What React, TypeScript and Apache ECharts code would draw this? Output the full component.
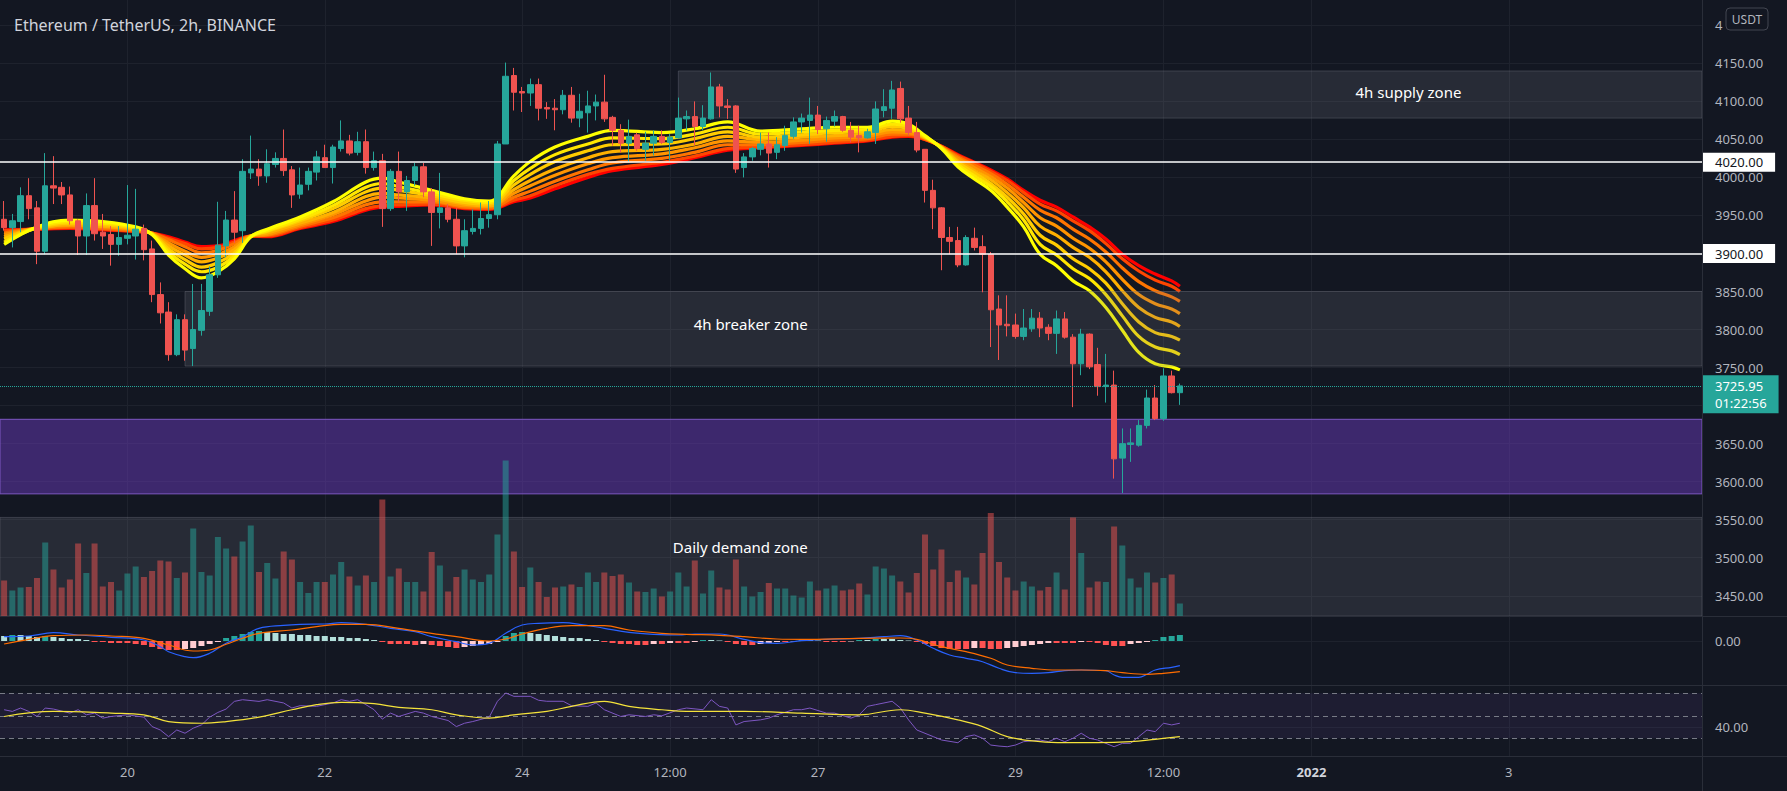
import React, { useEffect, useRef } from 'react';
import * as echarts from 'echarts';

// ---------- DATA ----------
const SLOT_COUNT = 207; // candle slots across the plot (last 63 are empty future slots)
const tickIdx = [15, 39, 63, 81, 99, 123, 141, 159, 183];
const tickText = ['20', '22', '24', '12:00', '27', '29', '12:00', '2022', '3'];

const opens = [3945,3934,3942,3976,3960,3903,3989,3987,3977,3943,
3923,3963,3928,3925,3912,3920,3923,3933,3906,3846,
3823,3767,3813,3775,3799,3824,3872,3910,3944,3930,
4006,4011,4002,4017,4025,4010,3978,3991,4007,4026,
4013,4038,4048,4033,4047,4013,4022,3959,4008,3981,
3996,4014,3981,3954,3960,3945,3910,3929,3933,3946,
3951,4044,4134,4113,4111,4122,4092,4091,4089,4108,
4078,4085,4094,4099,4079,4062,4045,4056,4037,4045,
4054,4046,4052,4077,4080,4067,4077,4119,4094,4094,
4013,4027,4037,4044,4033,4042,4054,4073,4075,4082,
4064,4074,4080,4062,4055,4052,4059,4088,4091,4117,
4078,4059,4037,3983,3960,3921,3917,3885,3920,3909,
3899,3827,3807,3806,3791,3801,3815,3803,3795,3814,
3790,3755,3794,3754,3725,3727,3631,3649,3648,3674,
3710,3683,3739,3717];
const highs = [3969,3952,3987,3999,3969,4032,4028,3994,3988,3945,
3979,3999,3952,3936,3936,3990,3985,3938,3917,3862,
3836,3820,3820,3860,3860,3883,3968,3956,3982,4024,
4055,4024,4037,4033,4063,4015,4013,4013,4035,4043,
4043,4075,4056,4060,4063,4034,4031,4011,4034,4002,
4019,4019,3986,4006,3965,3960,3945,3958,3967,3969,
4048,4151,4144,4119,4130,4130,4099,4103,4115,4119,
4110,4114,4109,4135,4081,4070,4076,4059,4060,4062,
4062,4057,4105,4088,4100,4095,4138,4123,4103,4095,
4032,4040,4059,4059,4053,4068,4079,4084,4105,4094,
4080,4088,4081,4073,4068,4064,4100,4116,4127,4126,
4094,4073,4037,3997,3961,3935,3935,3924,3934,3924,
3902,3845,3845,3821,3827,3827,3823,3807,3825,3823,
3794,3801,3795,3776,3768,3746,3670,3670,3681,3721,
3727,3749,3746,3729];
const lows = [3930,3908,3928,3945,3886,3899,3965,3965,3938,3898,
3898,3917,3906,3884,3897,3912,3892,3891,3836,3808,
3759,3765,3759,3752,3792,3818,3868,3895,3914,3914,
3998,3989,3993,4013,4002,3960,3972,3983,3996,4013,
3992,4034,4029,4029,4005,4009,3935,3956,3967,3956,
3989,3974,3910,3933,3941,3899,3895,3925,3925,3934,
3945,4044,4088,4086,4094,4075,4077,4062,4083,4072,
4066,4059,4075,4073,4042,4033,4020,4035,4022,4029,
4044,4022,4051,4062,4042,4062,4076,4079,4077,4006,
4000,4022,4029,4013,4024,4035,4051,4059,4044,4057,
4047,4067,4060,4046,4033,4051,4044,4079,4077,4072,
4055,4033,3967,3932,3878,3899,3882,3884,3904,3849,
3777,3760,3791,3788,3786,3797,3790,3786,3768,3788,
3698,3740,3748,3713,3704,3604,3585,3626,3646,3670,
3681,3680,3716,3701];
const closes = [3934,3943,3976,3959,3903,3989,3986,3977,3943,3923,
3963,3926,3923,3912,3921,3924,3932,3905,3846,3822,
3767,3813,3773,3800,3825,3872,3911,3944,3928,4008,
4011,4002,4018,4025,4009,3977,3990,4008,4027,4013,
4040,4048,4032,4047,4013,4022,3959,4008,3981,3996,
4014,3981,3954,3960,3945,3910,3930,3933,3946,3951,
4044,4133,4112,4111,4122,4091,4090,4089,4108,4078,
4087,4094,4099,4077,4062,4045,4054,4038,4045,4054,
4046,4053,4078,4080,4067,4078,4119,4094,4092,4011,
4027,4038,4044,4032,4043,4055,4073,4078,4082,4063,
4075,4080,4062,4053,4052,4060,4090,4093,4115,4077,
4059,4036,3983,3960,3921,3916,3885,3921,3908,3899,
3826,3806,3805,3791,3802,3815,3802,3795,3814,3790,
3755,3794,3751,3725,3727,3630,3650,3651,3674,3710,
3683,3739,3717,3725.95];

// volume, thousand ETH
const volumes = [7.1,5.1,5.7,5.8,7.6,14.7,9.3,5.7,7.3,14.5,
8.6,14.5,5.9,6.8,5.1,8.5,9.9,7.8,9.0,11.1,
10.9,7.6,8.7,17.5,8.8,8.1,15.8,13.5,11.9,14.9,
18.1,8.8,10.6,7.5,12.9,11.3,6.8,4.6,6.8,6.8,
8.3,10.8,7.9,6.1,8.1,6.8,23.3,7.9,9.5,6.8,
6.8,4.9,12.8,10.1,4.9,7.8,9.3,7.3,6.8,8.3,
16.3,31.1,12.9,5.8,9.7,6.8,3.8,5.7,5.9,6.3,
5.8,8.7,6.8,8.7,8.0,8.3,6.7,4.9,4.8,5.5,
3.9,4.9,8.7,5.9,11.1,4.5,9.1,5.7,5.3,11.3,
5.9,3.9,4.8,6.6,5.5,5.5,4.1,3.7,6.9,5.1,
5.5,6.1,5.1,5.3,6.5,4.3,9.9,9.5,8.1,6.9,
4.7,8.6,16.3,9.3,13.3,6.8,9.1,7.7,6.3,12.6,
20.6,10.8,7.7,5.1,6.9,5.9,5.1,5.8,8.7,5.3,
19.7,12.6,5.7,6.9,6.8,17.9,14.1,7.5,5.7,8.7,
6.7,7.6,8.3,2.5];

// EMA ribbon, read at sample candles (fast 20 -> slow 55)
const ribbonIdx = [0,4,8,12,16,18,20,22,24,26,28,30,32,36,40,44,46,48,52,56,59,62,64,67,71,74,80,84,88,92,97,101,105,108,110,112,114,116,118,120,122,124,126,128,130,132,134,136,138,140,142,143];
const ema20 = [3912,3935,3944,3942,3935,3925,3898,3880,3868,3876,3893,3922,3932,3948,3968,3994,3999,3994,3983,3972,3969,4002,4021,4040,4054,4062,4059,4064,4073,4061,4064,4066,4066,4074,4070,4055,4038,4014,3998,3983,3961,3935,3899,3884,3864,3851,3829,3799,3770,3755,3751,3747];
const ema25 = [3915,3934,3942,3940,3934,3925,3902,3886,3876,3882,3897,3922,3930,3945,3963,3987,3992,3988,3979,3970,3967,3996,4012,4030,4044,4052,4051,4057,4066,4057,4060,4062,4063,4070,4067,4054,4039,4017,4002,3988,3968,3944,3912,3898,3880,3867,3846,3818,3791,3777,3772,3767];
const ema30 = [3919,3934,3940,3938,3933,3926,3906,3892,3882,3888,3901,3922,3929,3943,3959,3981,3986,3983,3976,3967,3965,3990,4004,4021,4035,4043,4044,4051,4060,4053,4056,4059,4060,4067,4064,4053,4039,4020,4006,3992,3974,3952,3924,3911,3893,3880,3861,3834,3810,3796,3791,3786];
const ema35 = [3922,3933,3938,3936,3932,3926,3910,3898,3889,3894,3905,3923,3927,3940,3954,3975,3979,3977,3973,3965,3963,3984,3996,4011,4026,4034,4037,4044,4054,4050,4053,4055,4057,4063,4062,4052,4040,4022,4009,3997,3980,3960,3936,3924,3908,3895,3876,3851,3829,3816,3810,3804];
const ema40 = [3925,3933,3937,3935,3931,3926,3914,3903,3895,3899,3909,3923,3925,3938,3951,3969,3974,3973,3970,3963,3962,3979,3989,4003,4018,4026,4031,4039,4048,4046,4049,4052,4054,4060,4059,4052,4040,4025,4013,4001,3986,3967,3947,3936,3920,3907,3889,3866,3846,3834,3827,3821];
const ema45 = [3927,3933,3935,3933,3930,3927,3918,3909,3901,3904,3913,3923,3924,3936,3947,3964,3968,3968,3968,3961,3960,3974,3982,3995,4010,4019,4025,4033,4043,4043,4046,4049,4051,4057,4057,4051,4040,4027,4016,4005,3991,3974,3957,3947,3932,3919,3902,3881,3863,3851,3843,3837];
const ema50 = [3930,3932,3934,3932,3929,3927,3920,3913,3906,3908,3915,3923,3923,3934,3944,3959,3963,3964,3965,3960,3959,3970,3976,3989,4004,4012,4020,4028,4038,4040,4043,4046,4049,4054,4055,4050,4041,4029,4019,4008,3996,3980,3965,3956,3943,3930,3913,3893,3877,3865,3857,3850];
const ema55 = [3931,3932,3933,3931,3929,3927,3922,3915,3909,3910,3917,3923,3922,3933,3942,3957,3961,3962,3964,3959,3958,3968,3973,3985,4000,4009,4017,4026,4036,4039,4042,4045,4048,4053,4054,4050,4041,4030,4020,4010,3998,3983,3970,3961,3948,3935,3919,3899,3884,3873,3864,3857];

// MACD (USDT)
const macdHist = [5,6,6,5,4,5,4,3,2,2,
1,-1,-1,-2,-2,-2,-3,-4,-6,-8,
-9,-9,-8,-7,-5,-3,-1,3,5,7,
9,10,9,8,7,7,6,6,5,5,
4,4,3,3,2,1,-1,-3,-3,-3,
-4,-3,-4,-5,-6,-7,-6,-5,-4,-3,
-1,5,8,9,8,7,6,5,4,3,
3,2,1,-1,-2,-3,-3,-4,-4,-3,
-3,-2,-2,-2,-1,1,1,0.5,-1,-3,
-4,-4,-3,-2,-1,-1,-0.5,1,1,0.5,
-1,-1,-1,-0.5,1,1,2,2,2,1,
0.5,-1,-3,-5,-7,-8,-8,-8,-7,-7,
-8,-8,-7,-6,-5,-4,-3,-2,-2,-2,
-2,-1,-1,-2,-4,-5,-5,-3,-2,-1,
1,4,5,6];
const macdPts = [[0,4.3],[3,5],[6,8.3],[9,6],[13,3.7],[17,1],[19,-5.7],[20,-10.7],[22,-15.7],[23,-16.7],[25,-12.3],[27,-2.3],[29,4.3],[31,12.7],[34,15.7],[36,16.7],[39,17],[41,18.3],[44,16.7],[47,12.7],[50,9.3],[52,4.3],[55,-0.7],[57,-4],[59,-2.3],[61,7.7],[63,16],[65,17.7],[68,18.3],[70,16.7],[73,12.7],[76,8.7],[79,6.7],[82,6],[84,7],[87,7],[90,1.7],[92,-1.7],[94,-2.3],[97,0.3],[100,1.7],[104,2.7],[107,4.3],[109,5.3],[111,1],[113,-7.3],[115,-14],[117,-17.3],[119,-20.7],[121,-27.3],[123,-31.7],[125,-32.3],[127,-31.7],[129,-29.7],[131,-29],[134,-29.7],[135,-34],[136,-36.3],[138,-36.3],[139,-33.3],[140,-29],[142,-26.3],[143,-24.7]];
const signalPts = [[0,-3],[3,1.7],[6,5.3],[10,6],[13,5],[17,2.7],[20,-4],[23,-10],[25,-9],[27,-3.3],[29,2.7],[31,7.7],[35,11],[38,14.3],[41,16.7],[44,16.7],[48,12.7],[52,7.7],[55,4.3],[59,0],[61,2],[63,7],[66,12.7],[69,15.3],[73,15.3],[76,11],[80,7.7],[83,6.7],[87,5.7],[90,4.3],[94,2],[97,1.7],[104,2.7],[109,3],[111,1.7],[114,-5.7],[117,-10.7],[120,-17.3],[122,-24],[125,-27.3],[128,-29],[131,-29],[134,-29.7],[136,-31.7],[139,-33.3],[141,-32.3],[143,-30.7]];

// RSI
const rsiPts = [[0,55.4],[1,53.9],[2,56.9],[3,53.9],[4,49.4],[5,56.9],[6,56],[8,52.4],[9,55.4],[10,50.9],[11,52.4],[12,47.9],[13,49.4],[15,50.9],[17,48.8],[18,40.4],[19,37.4],[20,31.5],[21,37.4],[22,34.5],[23,39],[24,41.9],[25,48.8],[26,53],[27,56],[28,62.8],[29,64.3],[31,62.8],[32,64.3],[34,61.4],[35,56.9],[36,59],[38,58.4],[40,61.4],[41,64.3],[42,62.9],[43,64.3],[44,59.9],[45,55.4],[46,47],[47,52.4],[48,49.4],[50,53.9],[51,52.4],[52,49.4],[54,45.8],[55,40.4],[56,43.4],[57,44.9],[59,48.8],[60,62.9],[61,70.3],[62,67.3],[64,67.3],[65,63.8],[66,62.9],[68,62.9],[69,59],[71,58.4],[72,61.4],[73,55.4],[75,49.4],[76,50.9],[78,49.4],[79,50.9],[80,50],[82,55.4],[83,56.9],[85,55.4],[86,64.3],[87,58.4],[88,56.9],[89,41.9],[90,44.9],[92,46.4],[93,47.9],[94,50.9],[96,55.4],[97,55.4],[98,56.9],[100,52.4],[101,52.4],[103,47.9],[104,50.9],[105,58.4],[106,59.9],[108,62.9],[109,57],[110,46.4],[111,37.4],[113,31.5],[114,28.5],[116,26.1],[117,31.5],[118,33],[119,30],[120,24],[121,23.1],[122,22.5],[123,24],[124,27],[126,28.5],[127,27],[128,30],[129,27],[130,30],[131,34.5],[132,30],[133,28.5],[135,22.5],[136,25.5],[137,25.5],[138,31.5],[139,37.4],[140,35.9],[141,43.4],[142,41.9],[143,43.4]];
const rsiMaPts = [[0,49.4],[6,53.9],[13,52.4],[17,50.9],[20,44.9],[24,43.4],[27,44.9],[31,48.8],[35,55.4],[38,59.9],[41,62],[45,60.8],[48,57.5],[52,55.4],[55,50.9],[59,47.9],[62,50.9],[66,53.9],[69,58.4],[73,62.9],[76,58.4],[80,55.4],[83,53.9],[90,53.9],[97,52.4],[104,50.9],[109,55.4],[112,52.4],[116,46.4],[119,40.4],[122,31.5],[126,27],[129,26.1],[133,26.1],[137,27],[140,29.1],[143,31.5]];

// zones and levels
const supplyZone = [4078, 4140];
const supplyStart = 82;
const breakerZone = [3752, 3850];
const breakerStart = 22;
const purpleZone = [3584, 3682];
const demandZone = [3423.3, 3553];
const levels = [4020, 3900];
const lastPrice = 3725.95;
const countdown = '01:22:56';

// ---------- STYLE ----------
const BG = '#131722';
const FONT = '"Noto Sans", "DejaVu Sans", sans-serif';
const GRIDC = '#1e222d';
const UP = '#26a69a';
const DOWN = '#ef5350';
const ribbonColors = ['#ffff00', '#ffe600', '#ffcc00', '#ffb000', '#ff9400', '#ff7400', '#ff4600', '#ff0000'];

export default function App() {
  const ref = useRef<HTMLDivElement>(null);

  useEffect(() => {
    if (!ref.current) return;
    const chart = echarts.init(ref.current, undefined, { renderer: 'svg' });
    const slots = Array.from({ length: SLOT_COUNT }, (_, i) => String(i));
    const candleData = opens.map((o, i) => [o, closes[i], lows[i], highs[i]]);
    const volData = volumes.map((v, i) => ({
      value: v,
      itemStyle: { color: closes[i] >= opens[i] ? 'rgba(38,166,154,0.5)' : 'rgba(239,83,80,0.5)' },
    }));
    const histData = macdHist.map((h, i) => {
      const prev = i > 0 ? macdHist[i - 1] : h;
      let c;
      if (h >= 0) c = h > prev ? '#26a69a' : '#b2dfdb';
      else c = h > prev ? '#ffcdd2' : '#ff5252';
      return { value: h, itemStyle: { color: c } };
    });
    const emas = [ema55, ema50, ema45, ema40, ema35, ema30, ema25, ema20];
    const emaCols = [...ribbonColors].reverse();
    const ribbonSeries = emas.map((arr, k) => ({
      type: 'line',
      xAxisIndex: 0,
      yAxisIndex: 0,
      data: arr.map((v, j) => [ribbonIdx[j], v]),
      smooth: 0.4,
      showSymbol: false,
      symbol: 'none',
      lineStyle: { color: emaCols[k], width: 3.2 },
      z: 2,
      silent: true,
    }));
    const isTick = (i: number) => tickIdx.includes(i);
    const priceSplit = ['transparent', ...Array(20).fill(GRIDC)];
    const zoneGray = { color: 'rgba(120,123,134,0.2)', borderColor: 'rgba(120,123,134,0.35)', borderWidth: 1 };
    const zoneLabel = (pos: string[]) => ({
      show: true, position: pos, align: 'center', verticalAlign: 'middle',
      color: '#ffffff', fontSize: 15, fontFamily: FONT,
    });
    // the axis label hidden behind the live price tag, and the one cut by the USDT badge
    const priceLabel = (v: number) => {
      if (v === 3700) return '';
      if (v === 4200) return '4';
      return v.toFixed(2);
    };

    const option: any = {
      animation: false,
      backgroundColor: BG,
      textStyle: { fontFamily: FONT },
      title: {
        text: 'Ethereum / TetherUS, 2h, BINANCE',
        left: 9, top: 12,
        textStyle: { color: '#d1d4dc', fontSize: 16, fontWeight: 'normal', fontFamily: FONT },
      },
      grid: [
        { left: 0, top: 25.32, width: 1702, height: 608.48 },
        { left: 0, top: 400, width: 1702, height: 216 },
        { left: 0, top: 616, width: 1702, height: 69 },
        { left: 0, top: 659.55, width: 1702, height: 112.5 },
        { left: 1702 / SLOT_COUNT / 2, top: 0, width: (1702 * (SLOT_COUNT - 1)) / SLOT_COUNT, height: 756 },
      ],
      xAxis: [
        { gridIndex: 0, type: 'category', data: slots, boundaryGap: true, show: false },
        { gridIndex: 1, type: 'category', data: slots, boundaryGap: true, show: false },
        { gridIndex: 2, type: 'category', data: slots, boundaryGap: true, show: false },
        { gridIndex: 3, type: 'category', data: slots, boundaryGap: true, show: false },
        {
          gridIndex: 4, type: 'category', data: slots, boundaryGap: false, position: 'bottom',
          axisLine: { show: false }, axisTick: { show: false },
          splitLine: { show: true, interval: (i: number) => isTick(i), lineStyle: { color: GRIDC, width: 1 } },
          axisLabel: {
            show: true, interval: (i: number) => isTick(i), margin: 9,
            color: '#b2b5be', fontSize: 13, fontFamily: FONT,
            formatter: (_v: string, i: number) => {
              const k = tickIdx.indexOf(i);
              if (k < 0) return '';
              return tickText[k] === '2022' ? '{b|2022}' : tickText[k];
            },
            rich: { b: { fontWeight: 'bold', color: '#d1d4dc', fontSize: 13, fontFamily: FONT } },
          },
        },
      ],
      yAxis: [
        {
          gridIndex: 0, type: 'value', position: 'right', min: 3400, max: 4200, interval: 50,
          axisLine: { show: false }, axisTick: { show: false },
          axisLabel: {
            color: '#b2b5be', fontSize: 13, margin: 13, fontFamily: FONT,
            showMinLabel: false, showMaxLabel: true,
            formatter: priceLabel,
          },
          splitLine: { show: true, lineStyle: { color: priceSplit, width: 1 } },
        },
        { gridIndex: 1, type: 'value', min: 0, max: 43.2, show: false },
        {
          gridIndex: 2, type: 'value', position: 'right', min: -44, max: 25, interval: 44,
          axisLine: { show: false }, axisTick: { show: false },
          axisLabel: {
            color: '#b2b5be', fontSize: 13, margin: 13, fontFamily: FONT,
            showMinLabel: false, showMaxLabel: false,
            formatter: (v: number) => (v === 0 ? '0.00' : ''),
          },
          splitLine: { show: true, lineStyle: { color: ['transparent', GRIDC, 'transparent'] } },
        },
        {
          gridIndex: 3, type: 'value', position: 'right', min: 0, max: 100, interval: 40,
          axisLine: { show: false }, axisTick: { show: false },
          axisLabel: {
            color: '#b2b5be', fontSize: 13, margin: 13, fontFamily: FONT,
            showMinLabel: false, showMaxLabel: false,
            formatter: (v: number) => (v === 40 ? '40.00' : ''),
          },
          splitLine: { show: true, lineStyle: { color: ['transparent', GRIDC, 'transparent', 'transparent'] } },
        },
        { gridIndex: 4, type: 'value', min: 0, max: 1, show: false },
      ],
      series: [
        ...ribbonSeries,
        {
          type: 'line', xAxisIndex: 0, yAxisIndex: 0, data: [], clip: false, z: 3, silent: true,
          markArea: {
            silent: true, z: 3,
            data: [
              [{ xAxis: supplyStart, yAxis: supplyZone[1], itemStyle: zoneGray, label: { ...zoneLabel(['71.3%', '44%']), formatter: '4h supply zone' } }, { yAxis: supplyZone[0] }],
              [{ xAxis: breakerStart, yAxis: breakerZone[1], itemStyle: zoneGray, label: { ...zoneLabel(['37.3%', '44%']), formatter: '4h breaker zone' } }, { yAxis: breakerZone[0] }],
              [{ yAxis: purpleZone[1], itemStyle: { color: 'rgba(103,58,183,0.5)', borderColor: '#7e57c2', borderWidth: 1 }, label: { show: false } }, { yAxis: purpleZone[0] }],
              [{ yAxis: demandZone[1], itemStyle: zoneGray, label: { ...zoneLabel(['43.5%', '30%']), formatter: 'Daily demand zone' } }, { yAxis: demandZone[0] }],
            ],
          },
          markLine: {
            silent: true, z: 6, symbol: ['none', 'none'],
            data: [
              ...levels.map((lv) => ({
                yAxis: lv,
                lineStyle: { color: '#ffffff', width: 1.5, type: 'solid' },
                label: {
                  show: true, position: 'end', distance: 0, formatter: lv.toFixed(2),
                  backgroundColor: '#ffffff', color: '#131722', fontSize: 13, lineHeight: 14, fontFamily: FONT,
                  padding: [3, 12, 2, 13],
                },
              })),
              {
                yAxis: lastPrice,
                lineStyle: { color: UP, width: 1, type: 'dotted' },
                label: { show: false },
              },
              {
                // price tag hangs just below the live price line
                yAxis: lastPrice - 11,
                lineStyle: { color: 'rgba(0,0,0,0)', width: 1 },
                label: {
                  show: true, position: 'end', distance: 0,
                  formatter: `{p|${lastPrice.toFixed(2)}}\n{t|${countdown}}`,
                  backgroundColor: UP, padding: [2, 12, 2, 13],
                  rich: {
                    p: { color: '#ffffff', fontSize: 13, lineHeight: 17, fontFamily: FONT },
                    t: { color: '#ffffff', fontSize: 13, lineHeight: 17, fontFamily: FONT },
                  },
                },
              },
            ],
          },
        },
        {
          type: 'bar', xAxisIndex: 1, yAxisIndex: 1, data: volData, barWidth: 6, z: 4, silent: true,
        },
        {
          type: 'candlestick', xAxisIndex: 0, yAxisIndex: 0, data: candleData, barWidth: 6, z: 5, silent: true,
          itemStyle: { color: UP, color0: DOWN, borderColor: UP, borderColor0: DOWN, borderWidth: 1 },
        },
        {
          type: 'bar', xAxisIndex: 2, yAxisIndex: 2, data: histData, barWidth: 6, z: 3, silent: true,
        },
        {
          type: 'line', xAxisIndex: 2, yAxisIndex: 2, data: macdPts, smooth: 0.4, showSymbol: false, symbol: 'none',
          lineStyle: { color: '#2962ff', width: 1.2 }, z: 4, silent: true,
        },
        {
          type: 'line', xAxisIndex: 2, yAxisIndex: 2, data: signalPts, smooth: 0.4, showSymbol: false, symbol: 'none',
          lineStyle: { color: '#ff6d00', width: 1.2 }, z: 4, silent: true,
        },
        {
          type: 'line', xAxisIndex: 3, yAxisIndex: 3, data: rsiPts, showSymbol: false, symbol: 'none',
          lineStyle: { color: '#7e57c2', width: 1 }, z: 4, silent: true,
          markArea: {
            silent: true, z: 1,
            data: [[{ yAxis: 70, itemStyle: { color: 'rgba(126,87,194,0.1)' } }, { yAxis: 30 }]],
          },
          markLine: {
            silent: true, z: 2, symbol: ['none', 'none'], label: { show: false },
            lineStyle: { color: '#787b86', width: 1, type: [5, 4] },
            data: [{ yAxis: 70 }, { yAxis: 50 }, { yAxis: 30 }],
          },
        },
        {
          type: 'line', xAxisIndex: 3, yAxisIndex: 3, data: rsiMaPts, smooth: 0.4, showSymbol: false, symbol: 'none',
          lineStyle: { color: '#f5e33b', width: 1.2 }, z: 4, silent: true,
        },
      ],
      graphic: [
        { type: 'line', z: 50, shape: { x1: 0, y1: 616.5, x2: 1787, y2: 616.5 }, style: { stroke: '#2a2e39', lineWidth: 1 } },
        { type: 'line', z: 50, shape: { x1: 0, y1: 685.5, x2: 1787, y2: 685.5 }, style: { stroke: '#2a2e39', lineWidth: 1 } },
        { type: 'line', z: 50, shape: { x1: 0, y1: 756.5, x2: 1787, y2: 756.5 }, style: { stroke: '#2a2e39', lineWidth: 1 } },
        { type: 'line', z: 50, shape: { x1: 1702.5, y1: 0, x2: 1702.5, y2: 791 }, style: { stroke: '#2a2e39', lineWidth: 1 } },
        {
          type: 'group', z: 100,
          children: [
            { type: 'rect', z: 100, shape: { x: 1726, y: 8, width: 42, height: 22, r: 4 }, style: { fill: BG, stroke: '#434651', lineWidth: 1 } },
            { type: 'text', z: 101, style: { x: 1747, y: 19.5, text: 'USDT', fill: '#b2b5be', font: `12px ${FONT}`, align: 'center', verticalAlign: 'middle' } },
          ],
        },
      ],
    };
    chart.setOption(option);
    return () => chart.dispose();
  }, []);

  return <div ref={ref} style={{ position: 'fixed', left: 0, top: 0, width: 1787, height: 791 }} />;
}
